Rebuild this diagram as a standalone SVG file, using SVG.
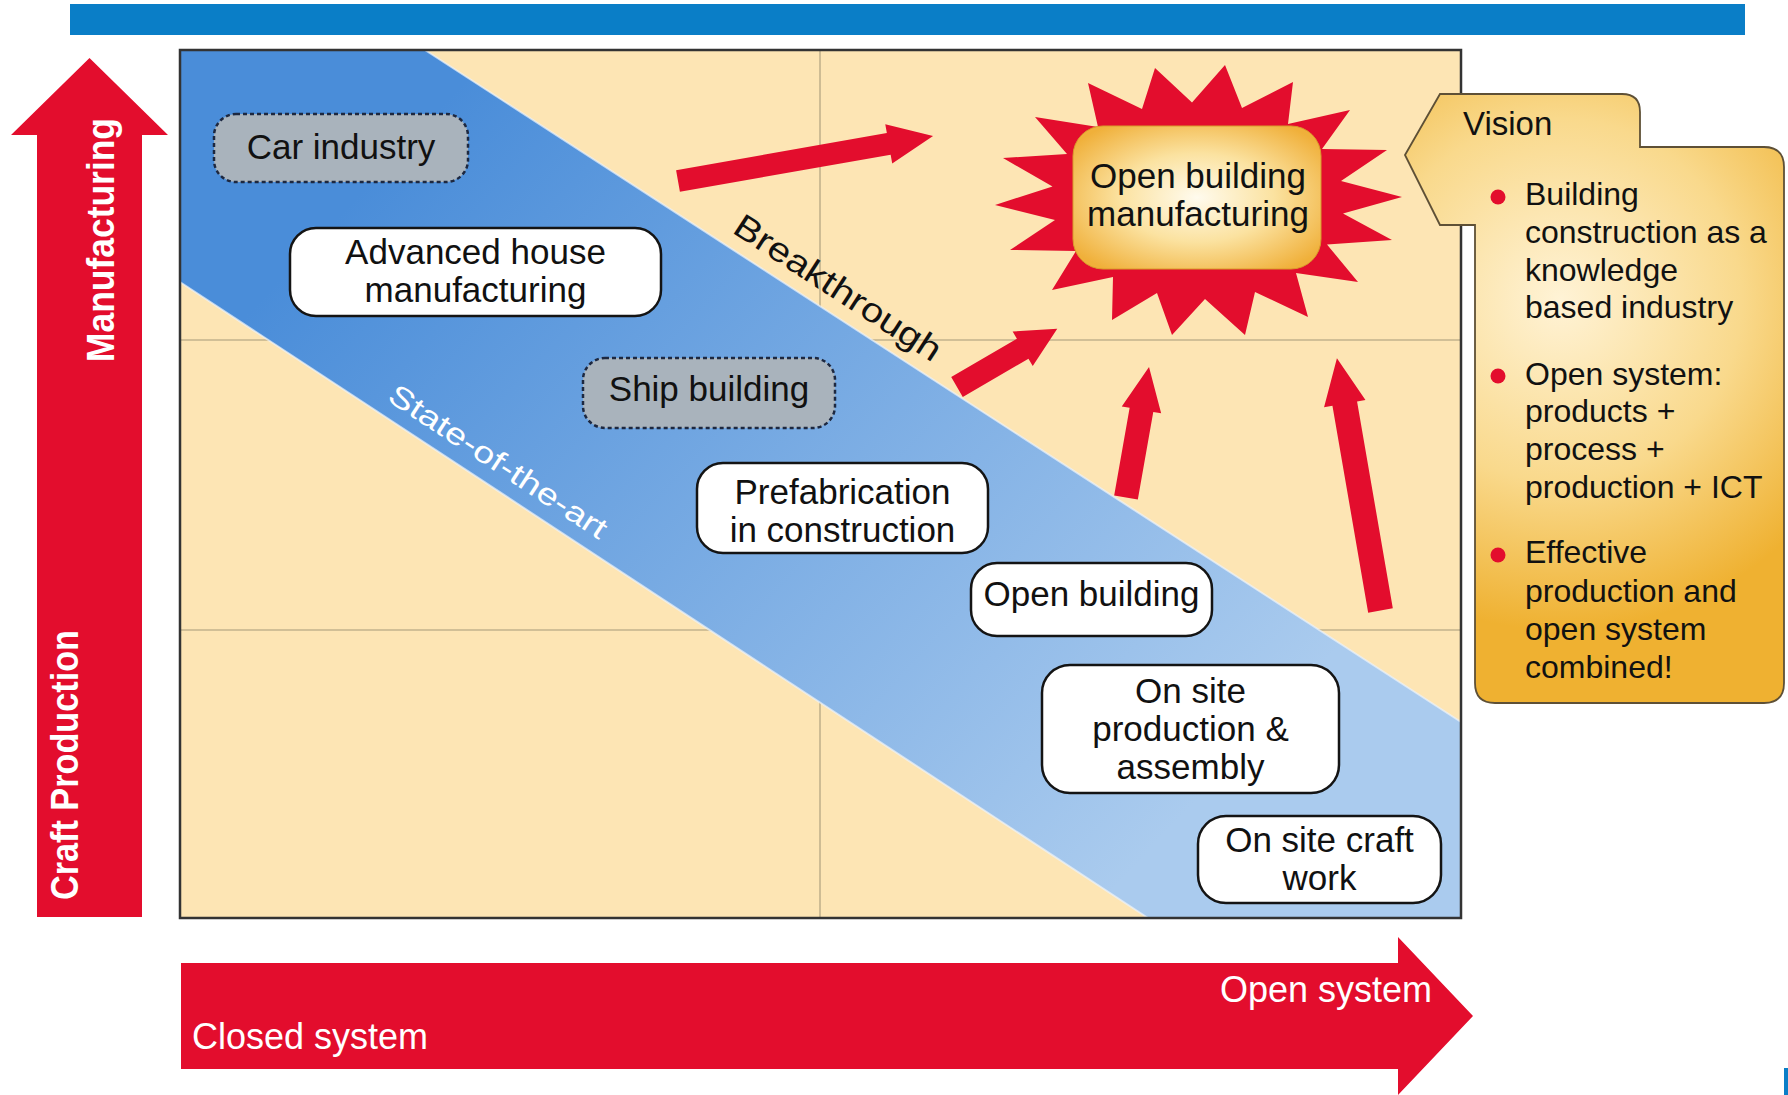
<svg xmlns="http://www.w3.org/2000/svg" width="1788" height="1095" viewBox="0 0 1788 1095">
<defs>
<linearGradient id="band" gradientUnits="userSpaceOnUse" x1="400" y1="150" x2="1150" y2="850">
<stop offset="0" stop-color="#4a8dd9"/>
<stop offset="1" stop-color="#aacbee"/>
</linearGradient>
<radialGradient id="gold" cx="0.5" cy="0.5" r="0.62">
<stop offset="0" stop-color="#fffbee"/>
<stop offset="0.5" stop-color="#fbe2a0"/>
<stop offset="1" stop-color="#f0b03a"/>
</radialGradient>
<radialGradient id="vis" gradientUnits="userSpaceOnUse" cx="1560" cy="300" r="330">
<stop offset="0" stop-color="#fff3d6"/>
<stop offset="0.55" stop-color="#f9d98c"/>
<stop offset="1" stop-color="#efb131"/>
</radialGradient>
</defs>
<style>
.red{fill:#e30d2d}
.t{font-family:"Liberation Sans",Arial,sans-serif;fill:#111}
.n{font-size:35px;text-anchor:middle}
.white{fill:#ffffff;stroke:#141414;stroke-width:2.5}
.gray{fill:#a9b3bc;stroke:#1d2840;stroke-width:2.5;stroke-dasharray:4 3}
.v{font-size:32px}
.grid{stroke:#c2b28c;stroke-width:1.6;fill:none}
</style>

<rect x="70" y="4" width="1675" height="31" fill="#0a7ec7"/>
<rect x="1784" y="1068" width="4" height="27" fill="#0a7ec7"/>

<g id="plot">
<rect x="180" y="50" width="1281" height="868" fill="#fde5b4"/>
<line class="grid" x1="820" y1="50" x2="820" y2="918"/>
<line class="grid" x1="180" y1="340" x2="1461" y2="340"/>
<line class="grid" x1="180" y1="630" x2="1461" y2="630"/>
<polygon points="180,50 425,50 1461,722 1461,918 1148,918 180,282" fill="url(#band)"/>
<line x1="425" y1="50" x2="1461" y2="722" stroke="#eef4fb" stroke-width="2" opacity="0.7"/>
<line x1="180" y1="282" x2="1148" y2="918" stroke="#eef4fb" stroke-width="2" opacity="0.7"/>
<rect x="180" y="50" width="1281" height="868" fill="none" stroke="#333" stroke-width="2.5"/>
<text class="t" transform="translate(731,232) rotate(33)" font-size="34" textLength="240" lengthAdjust="spacingAndGlyphs">Breakthrough</text>
<text class="t" transform="translate(386,400) rotate(33.3)" font-size="30" style="fill:#ffffff" textLength="255" lengthAdjust="spacingAndGlyphs">State-of-the-art</text>
</g>

<g id="axis-vertical">
<path class="red" d="M37,917 L37,135 L11,135 L89.5,58 L168,135 L142,135 L142,917 Z"/>
<text class="t" transform="translate(114,240) rotate(-90)" font-size="38" font-weight="bold" text-anchor="middle" style="fill:#fff" textLength="244" lengthAdjust="spacingAndGlyphs">Manufacturing</text>
<text class="t" transform="translate(78,765) rotate(-90)" font-size="38" font-weight="bold" text-anchor="middle" style="fill:#fff" textLength="270" lengthAdjust="spacingAndGlyphs">Craft Production</text>
</g>

<g id="axis-horizontal">
<path class="red" d="M181,963 L1398,963 L1398,937 L1473,1016 L1398,1095 L1398,1069 L181,1069 Z"/>
<text class="t" x="192" y="1049" font-size="36" style="fill:#fff">Closed system</text>
<text class="t" x="1432" y="1002" font-size="36" text-anchor="end" style="fill:#fff">Open system</text>
</g>

<g id="connectors">
<path class="red" transform="translate(678,181) rotate(-10)" d="M0,-11 L214,-11 L214,-20 L259,0 L214,20 L214,11 L0,11 Z"/>
<path class="red" transform="translate(957,387) rotate(-30.2)" d="M0,-11.5 L76,-11.5 L76,-20 L116,0 L76,20 L76,11.5 L0,11.5 Z"/>
<path class="red" transform="translate(1126,497.5) rotate(-80)" d="M0,-12 L89,-12 L89,-20 L132.5,0 L89,20 L89,12 L0,12 Z"/>
<path class="red" transform="translate(1380.5,610.5) rotate(-99.8)" d="M0,-12.5 L210,-12.5 L210,-21 L256,0 L210,21 L210,12.5 L0,12.5 Z"/>
</g>

<g id="car-industry">
<rect class="gray" x="214" y="114" width="254" height="68" rx="22"/>
<text class="t n" x="341" y="159">Car industry</text>
</g>
<g id="advanced-house">
<rect class="white" x="290" y="228" width="371" height="88" rx="26"/>
<text class="t n" x="475.5" y="264">Advanced house</text>
<text class="t n" x="475.5" y="302">manufacturing</text>
</g>
<g id="ship-building">
<rect class="gray" x="583" y="358" width="252" height="70" rx="22"/>
<text class="t n" x="709" y="401">Ship building</text>
</g>
<g id="prefabrication">
<rect class="white" x="697" y="463" width="291" height="90" rx="26"/>
<text class="t n" x="842.5" y="504">Prefabrication</text>
<text class="t n" x="842.5" y="542">in construction</text>
</g>
<g id="open-building">
<rect class="white" x="971" y="563" width="241" height="73" rx="26"/>
<text class="t n" x="1091.5" y="606">Open building</text>
</g>
<g id="on-site-production">
<rect class="white" x="1042" y="665" width="297" height="128" rx="28"/>
<text class="t n" x="1190.5" y="703">On site</text>
<text class="t n" x="1190.5" y="741">production &amp;</text>
<text class="t n" x="1190.5" y="779">assembly</text>
</g>
<g id="on-site-craft">
<rect class="white" x="1198" y="816" width="243" height="87" rx="28"/>
<text class="t n" x="1319.5" y="852">On site craft</text>
<text class="t n" x="1319.5" y="890">work</text>
</g>

<g id="open-building-manufacturing">
<polygon class="red" points="1088,83 1142,109 1155,68 1192,102.5 1225,65 1242,108 1293,82 1288,124 1350,110 1322,149 1387,150 1341,181 1402,197 1343,213.5 1392,240 1327,244.5 1358,282 1296,273 1308,317 1255,292 1245,335 1205,299 1172,335 1157,293 1112,320 1113,277 1052,290 1076,251 1010,250 1055,220 995,205 1052.5,186.5 1003,158 1067,154 1035,117 1098,127"/>
<rect x="1073" y="126" width="248" height="143" rx="30" fill="url(#gold)" stroke="#d99a2c" stroke-width="1"/>
<text class="t n" x="1198" y="188">Open building</text>
<text class="t n" x="1198" y="226">manufacturing</text>
</g>

<g id="vision">
<path d="M1405,155 L1440,94 L1622,94 Q1640,94 1640,112 L1640,147 L1764,147 Q1784,147 1784,167 L1784,683 Q1784,703 1764,703 L1495,703 Q1475,703 1475,683 L1475,225 L1440,225 Z" fill="url(#vis)" stroke="#5e5036" stroke-width="1.8"/>
<text class="t" x="1463" y="135" font-size="33">Vision</text>
<g class="red">
<circle cx="1498" cy="197" r="7.5"/>
<circle cx="1498" cy="376" r="7.5"/>
<circle cx="1498" cy="555" r="7.5"/>
</g>
<text class="t v" x="1525" y="205">Building</text>
<text class="t v" x="1525" y="243">construction as a</text>
<text class="t v" x="1525" y="281">knowledge</text>
<text class="t v" x="1525" y="318">based industry</text>
<text class="t v" x="1525" y="385">Open system:</text>
<text class="t v" x="1525" y="422">products +</text>
<text class="t v" x="1525" y="460">process +</text>
<text class="t v" x="1525" y="498">production + ICT</text>
<text class="t v" x="1525" y="563">Effective</text>
<text class="t v" x="1525" y="602">production and</text>
<text class="t v" x="1525" y="640">open system</text>
<text class="t v" x="1525" y="678">combined!</text>
</g>
</svg>
